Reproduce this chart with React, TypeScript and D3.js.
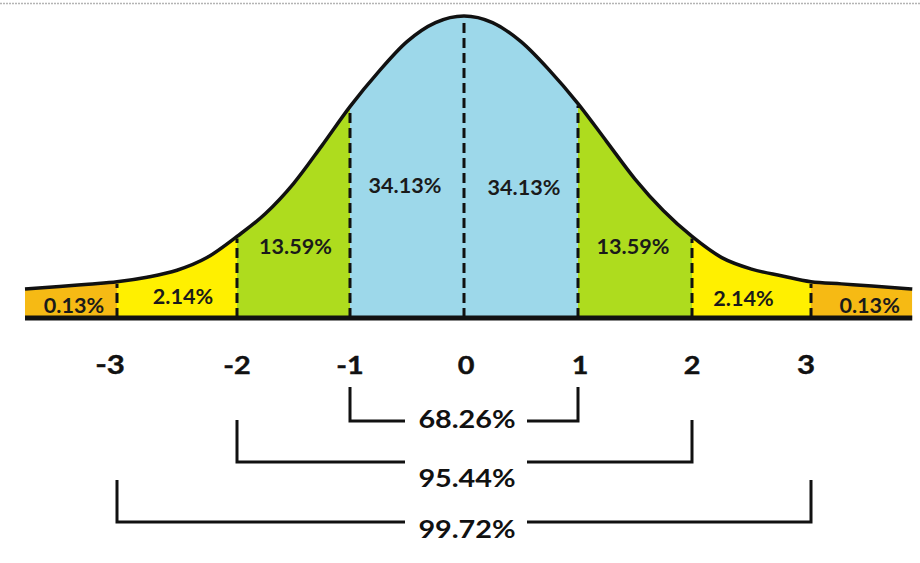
import React from "react";
import * as d3 from "d3";

// Curve: z (standard deviations) and relative height (peak = 1)
const curveZ = [-3.8, -3.5, -3.25, -3, -2.75, -2.5, -2.25, -2, -1.75, -1.5, -1.25, -1, -0.75, -0.5, -0.25, 0,
  0.25, 0.5, 0.75, 1, 1.25, 1.5, 1.75, 2, 2.25, 2.5, 2.75, 3, 3.25, 3.5, 3.83];
const curveH = [0.096, 0.104, 0.112, 0.12, 0.135, 0.158, 0.2, 0.27, 0.345, 0.445, 0.57, 0.7, 0.815, 0.915, 0.978, 1.0,
  0.978, 0.915, 0.82, 0.71, 0.585, 0.46, 0.355, 0.27, 0.2, 0.162, 0.14, 0.12, 0.113, 0.106, 0.096];

// Bands between the sigma boundaries
const bandEdges = [-3.8, -3, -2, -1, 0, 1, 2, 3, 3.83];
const bandLabels = ["0.13%", "2.14%", "13.59%", "34.13%", "34.13%", "13.59%", "2.14%", "0.13%"];
const bandColors = ["#F6BA14", "#FFF000", "#AEDC1E", "#9DD8EA", "#9DD8EA", "#AEDC1E", "#FFF000", "#F6BA14"];

// Axis ticks
const tickValues = [-3, -2, -1, 0, 1, 2, 3];
const tickLabels = ["-3", "-2", "-1", "0", "1", "2", "3"];

// Range brackets
const bracketSigmas = [1, 2, 3];
const bracketLabels = ["68.26%", "95.44%", "99.72%"];

const W = 920;
const H = 563;
const FONT = "Lato, 'Open Sans', 'DejaVu Sans', sans-serif";

export default function App() {
  // the drawing's sigma marks are not evenly spaced, so the scale is piecewise linear
  const x = d3
    .scaleLinear()
    .domain([-4, -3, -2, -1, 0, 1, 2, 3, 4])
    .range([2, 117, 237, 350, 464, 578, 692, 811, 933]);
  const y = d3.scaleLinear().domain([0, 1]).range([318, 16]);
  const pts: [number, number][] = curveZ.map((z, i) => [z, curveH[i]]);

  const line = d3
    .line<[number, number]>()
    .x((d) => x(d[0]))
    .y((d) => y(d[1]))
    .curve(d3.curveMonotoneX);
  const area = d3
    .area<[number, number]>()
    .x((d) => x(d[0]))
    .y0(y(0))
    .y1((d) => y(d[1]))
    .curve(d3.curveMonotoneX);

  const areaPath = area(pts) || "";
  const linePath = line(pts) || "";

  // label layout (baseline y per band, small x nudges)
  const labelY = [313, 304, 254, 193, 195, 254, 306, 313];
  const labelDx = [3, 6, 2, -2, 3, -2, -8, 8];

  const bracketTop = [387, 420, 480];
  const bracketLineY = [421, 462, 522];
  const bracketTextY = [428, 487, 538];

  const tickDx = [-7, 0, 0, 2, 2, 0, -5];
  const tickSize = [26, 24, 24, 24, 24, 24, 26];

  return (
    <svg
      width={W}
      height={H}
      style={{ position: "absolute", left: 0, top: 0, background: "#fff" }}
    >
      <defs>
        {bandLabels.map((_, i) => (
          <clipPath id={`band-${i}`} key={i}>
            <rect
              x={x(bandEdges[i])}
              y={0}
              width={x(bandEdges[i + 1]) - x(bandEdges[i])}
              height={y(0)}
            />
          </clipPath>
        ))}
      </defs>

      {/* top border */}
      <line x1={0} x2={W} y1={3.5} y2={3.5} stroke="#b4b4b4" strokeWidth={1.5} strokeDasharray="2,1" />

      {/* bands */}
      {bandLabels.map((_, i) => (
        <path key={i} d={areaPath} fill={bandColors[i]} clipPath={`url(#band-${i})`} />
      ))}

      {/* dashed sigma lines */}
      {tickValues.map((z) => {
        const h = curveH[curveZ.indexOf(z)];
        return (
          <line
            key={z}
            x1={x(z)}
            x2={x(z)}
            y1={y(0)}
            y2={y(h) + 2}
            stroke="#111"
            strokeWidth={3}
            strokeDasharray="10,5"
          />
        );
      })}

      {/* curve */}
      <path d={linePath} fill="none" stroke="#111" strokeWidth={3.5} />
      {/* baseline */}
      <line x1={x(-3.8)} x2={x(3.83)} y1={y(0)} y2={y(0)} stroke="#111" strokeWidth={5} />

      {/* band labels */}
      {bandLabels.map((lab, i) => {
        const cx = (x(bandEdges[i]) + x(bandEdges[i + 1])) / 2 + labelDx[i];
        return (
          <text
            key={i}
            transform={`translate(${cx},${labelY[i]}) scale(1.08,1)`}
            textAnchor="middle"
            fontFamily={FONT}
            fontWeight={700}
            fontSize={20}
            fill="#1a1a1a"
          >
            {lab}
          </text>
        );
      })}

      {/* tick labels */}
      {tickValues.map((z, i) => (
        <text
          key={z}
          transform={`translate(${x(z) + tickDx[i]},374) scale(1.2,1)`}
          textAnchor="middle"
          fontFamily={FONT}
          fontWeight={700}
          fontSize={tickSize[i]}
          fill="#111"
          stroke="#111"
          strokeWidth={0.4}
        >
          {tickLabels[i]}
        </text>
      ))}

      {/* brackets */}
      {bracketSigmas.map((k, i) => (
        <g key={k} stroke="#111" strokeWidth={3} fill="none">
          <polyline points={`${x(-k)},${bracketTop[i]} ${x(-k)},${bracketLineY[i]} 405,${bracketLineY[i]}`} />
          <polyline points={`527,${bracketLineY[i]} ${x(k)},${bracketLineY[i]} ${x(k)},${bracketTop[i]}`} />
        </g>
      ))}
      {bracketLabels.map((lab, i) => (
        <text
          key={lab}
          transform={`translate(467,${bracketTextY[i]}) scale(1.2,1)`}
          textAnchor="middle"
          fontFamily={FONT}
          fontWeight={700}
          fontSize={24}
          fill="#111"
        >
          {lab}
        </text>
      ))}
    </svg>
  );
}
